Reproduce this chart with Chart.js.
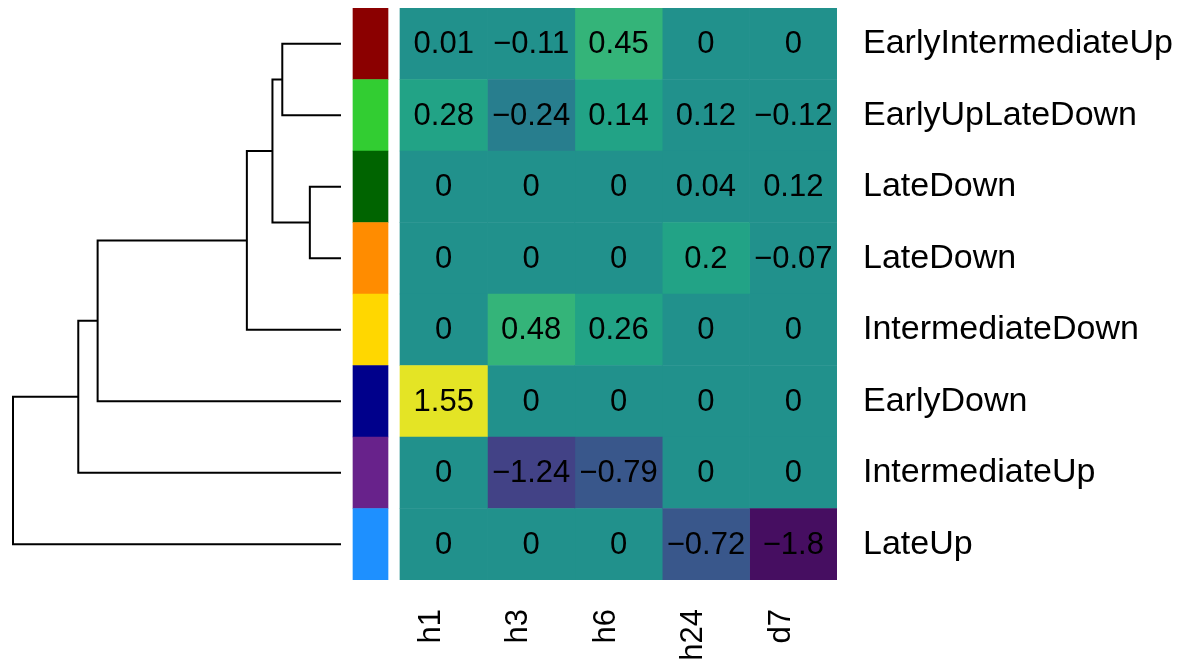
<!DOCTYPE html>
<html>
<head>
<meta charset="utf-8">
<script src="https://cdn.jsdelivr.net/npm/chart.js@4/dist/chart.umd.min.js"></script>
<style>
  html, body { margin: 0; padding: 0; background: #fff; }
  #wrap { width: 1184px; height: 662px; position: relative; }
</style>
</head>
<body>
<div id="wrap"><canvas id="heat"></canvas></div>
<script>
// Heatmap data (rows top to bottom, columns left to right)
const rowLabels = ["EarlyIntermediateUp", "EarlyUpLateDown", "LateDown", "LateDown",
  "IntermediateDown", "EarlyDown", "IntermediateUp", "LateUp"];
const colLabels = ["h1", "h3", "h6", "h24", "d7"];
const h1 = [0.01, 0.28, 0, 0, 0, 1.55, 0, 0];
const h3 = [-0.11, -0.24, 0, 0, 0.48, 0, -1.24, 0];
const h6 = [0.45, 0.14, 0, 0, 0.26, 0, -0.79, 0];
const h24 = [0, 0.12, 0.04, 0.2, 0, 0, 0, -0.72];
const d7 = [0, -0.12, 0.12, -0.07, 0, 0, 0, -1.8];
const rowColors = ["#8B0000", "#32CD32", "#006400", "#FF8C00", "#FFD700", "#00008B", "#68228B", "#1E90FF"];

// Row dendrogram, hclust style merges (negative = leaf number, positive = earlier merge)
const treeMerge = [[-3, -4], [-1, -2], [2, 1], [3, -5], [4, -6], [5, -7], [6, -8]];
const treeHeight = [0.95, 1.79, 2.09, 2.87, 7.42, 8.01, 10];

const colValues = [h1, h3, h6, h24, d7];
const colorMin = -1.8, colorMax = 1.8, colorSteps = 13;

// viridis colour ramp, binned into equal steps
const viridis = ["#440154", "#482475", "#414487", "#355f8d", "#2a788e", "#21918c",
  "#22a884", "#44bf70", "#7ad151", "#bddf26", "#fde725"];
function hexRgb(h) { return [1, 3, 5].map(i => parseInt(h.substr(i, 2), 16)); }
function ramp(t) {
  t = Math.max(0, Math.min(1, t)) * (viridis.length - 1);
  const i = Math.min(Math.floor(t), viridis.length - 2);
  const f = t - i;
  const a = hexRgb(viridis[i]), b = hexRgb(viridis[i + 1]);
  const c = a.map((x, k) => Math.round(x + (b[k] - x) * f));
  return `rgb(${c[0]},${c[1]},${c[2]})`;
}
function viridisColor(v) {
  const w = (colorMax - colorMin) / colorSteps;
  const k = Math.min(colorSteps - 1, Math.max(0, Math.floor((v - colorMin) / w)));
  const mid = colorMin + (k + 0.5) * w;
  return ramp((mid - colorMin) / (colorMax - colorMin));
}
function fmt(v) { return String(v).replace("-", "\u2212"); }

// layout
const plotRight = 837, heatLeft = 400, plotBottom = 580, plotTop = 8;
const colW = (plotRight - heatLeft) / colLabels.length;
const xMin = -heatLeft / colW;
const sideFrom = (353 - heatLeft) / colW, sideTo = (388 - heatLeft) / colW;
const treeRootPx = 13, treeLeafPx = 341;
const rootH = Math.max(...treeHeight);
const dxRange = rootH * plotRight / (treeLeafPx - treeRootPx);
const dxMax = treeLeafPx * dxRange / plotRight;
const dxMin = dxMax - dxRange;

const font = "'Liberation Sans', Arial, Helvetica, sans-serif";

function noPad(scale) {
  scale.paddingTop = 0;
  scale.paddingBottom = 0;
  scale.paddingLeft = 0;
  scale.paddingRight = 0;
}

// datasets
const datasets = [];
colValues.forEach((vals, j) => {
  datasets.push({
    type: "bar",
    indexAxis: "y",
    xAxisID: "x",
    yAxisID: "y",
    data: vals.map(() => [j, j + 1]),
    values: vals,
    backgroundColor: vals.map(viridisColor),
    borderWidth: 0,
    barPercentage: 1,
    categoryPercentage: 1,
    grouped: false
  });
});
datasets.push({
  type: "bar",
  indexAxis: "y",
  xAxisID: "x",
  yAxisID: "y",
  data: rowLabels.map(() => [sideFrom, sideTo]),
  backgroundColor: rowColors,
  borderWidth: 0,
  barPercentage: 1,
  categoryPercentage: 1,
  grouped: false
});

const nodes = [];
function node(id) { return id < 0 ? { h: 0, y: -id - 1 } : nodes[id - 1]; }
treeMerge.forEach((m, k) => {
  const a = node(m[0]), b = node(m[1]), h = treeHeight[k];
  nodes.push({ h: h, y: (a.y + b.y) / 2 });
  datasets.push({
    type: "line",
    indexAxis: "x",
    xAxisID: "dx",
    yAxisID: "dy",
    data: [{ x: a.h, y: a.y }, { x: h, y: a.y }, { x: h, y: b.y }, { x: b.h, y: b.y }],
    borderColor: "#000",
    borderWidth: 2,
    borderJoinStyle: "miter",
    pointRadius: 0,
    fill: false,
    tension: 0,
    clip: false
  });
});

const cellText = {
  id: "cellText",
  afterDatasetsDraw(chart) {
    const ctx = chart.ctx;
    ctx.save();
    ctx.font = "31px " + font;
    ctx.fillStyle = "#000";
    ctx.textAlign = "center";
    ctx.textBaseline = "middle";
    chart.data.datasets.forEach((ds, di) => {
      if (!ds.values) return;
      chart.getDatasetMeta(di).data.forEach((bar, i) => {
        const p = bar.getCenterPoint();
        ctx.fillText(fmt(ds.values[i]), p.x, p.y + 1);
      });
    });
    ctx.restore();
  }
};

new Chart(document.getElementById("heat"), {
  data: { labels: rowLabels, datasets: datasets },
  plugins: [cellText],
  options: {
    responsive: true,
    maintainAspectRatio: false,
    animation: false,
    events: [],
    layout: { padding: { top: plotTop, left: 0, right: 0, bottom: 0 } },
    plugins: { legend: { display: false }, tooltip: { enabled: false } },
    scales: {
      x: {
        type: "linear",
        position: "bottom",
        min: xMin,
        max: colLabels.length,
        grid: { display: false, drawTicks: false },
        border: { display: false },
        afterBuildTicks(scale) {
          scale.ticks = colLabels.map((c, i) => ({ value: i + 0.36 }));
        },
        afterFit(scale) { scale.height = 662 - plotBottom; noPad(scale); },
        ticks: {
          autoSkip: false,
          minRotation: 90,
          maxRotation: 90,
          padding: 29,
          color: "#000",
          font: { size: 31, family: font },
          callback: (v, i) => colLabels[i]
        }
      },
      y: {
        type: "category",
        position: "right",
        offset: true,
        grid: { display: false, drawTicks: false },
        border: { display: false },
        afterFit(scale) { scale.width = 1184 - plotRight; noPad(scale); },
        ticks: {
          padding: 26,
          color: "#000",
          font: { size: 34, family: font }
        }
      },
      dx: {
        type: "linear",
        display: false,
        reverse: true,
        min: dxMin,
        max: dxMax
      },
      dy: {
        type: "linear",
        display: false,
        reverse: true,
        min: -0.5,
        max: rowLabels.length - 0.5
      }
    }
  }
});
</script>
</body>
</html>
